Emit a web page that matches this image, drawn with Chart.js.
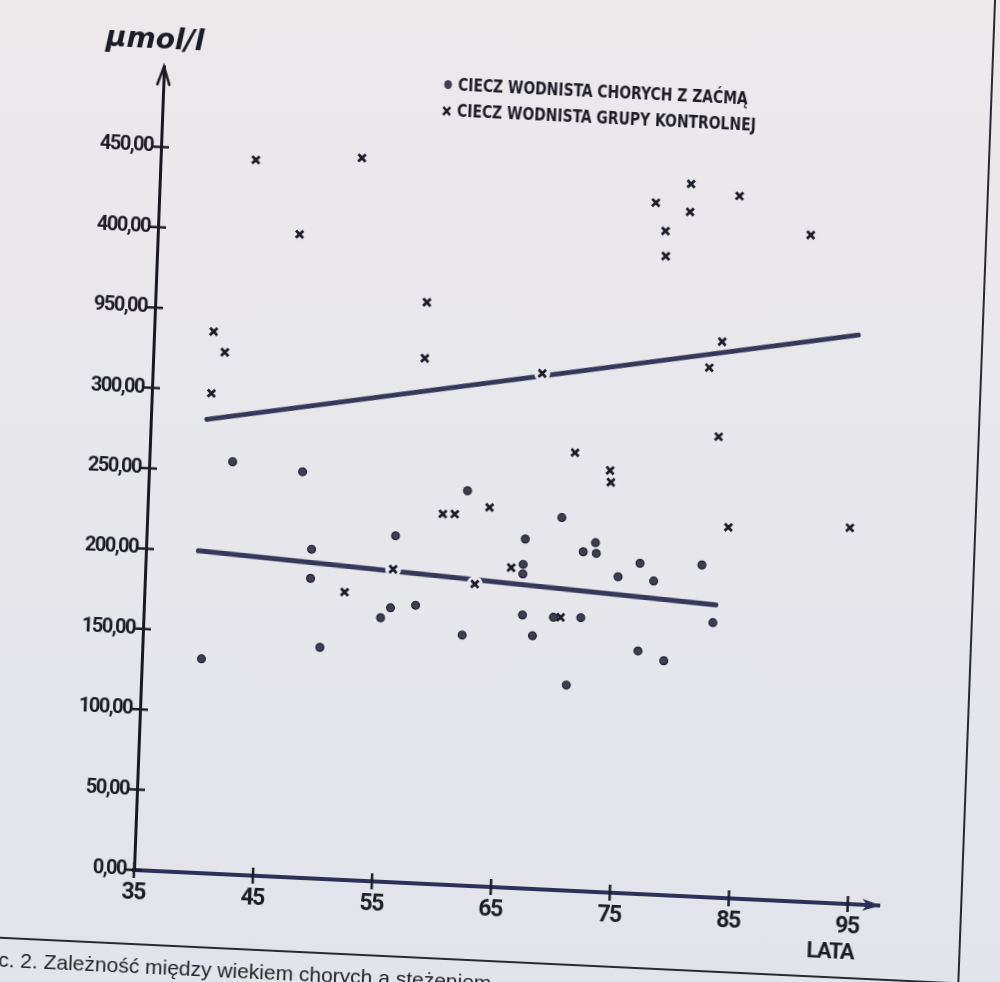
<!DOCTYPE html>
<html>
<head>
<meta charset="utf-8">
<script src="https://cdn.jsdelivr.net/npm/chart.js@4.4.0/dist/chart.umd.min.js"></script>
<style>
    html, body {
        margin: 0;
        padding: 0;
        width: 1000px;
        height: 982px;
        overflow: hidden;
        background: linear-gradient(#ece9eb, #e2e4eb);
    }
    /* the scanned page is slightly rotated, so the whole sheet is tilted round the plot origin */
    #page {
        position: absolute;
        left: 0;
        top: 0;
        width: 1000px;
        height: 982px;
        transform-origin: 134px 870px;
        transform: matrix(0.99887, 0.04763, -0.03734, 0.9993, 0, 0);
    }
    #chart { position: absolute; left: 0; top: 0; }
    .txt {
        position: absolute;
        white-space: nowrap;
        color: #1c1c26;
        font-family: 'DejaVu Sans Condensed', 'DejaVu Sans', sans-serif;
        font-weight: bold;
    }
    .row { left: 413px; height: 22px; line-height: 22px; font-size: 18px; transform: scaleX(0.86); transform-origin: 0 50%; }
    .mark { display: inline-block; width: 12px; height: 12px; margin-right: 6px; vertical-align: -1px; }
    .dot { width: 9px; height: 9px; border-radius: 50%; background: #3e3f52; margin: 0 7px 0 2px; vertical-align: 1px; }
    #unit { left: 75px; top: 22px; font-family: 'DejaVu Sans', sans-serif; font-style: italic; font-size: 28px; }
    #lata { left: 809px; top: 905px; font-family: Roboto, sans-serif; font-size: 22px; letter-spacing: -1.5px; }
    #caption { left: -24px; top: 954px; font-family: 'Liberation Sans', Arial, sans-serif; font-weight: normal; font-size: 21px; color: #222; }
    .rule { position: absolute; background: #2a2a33; }
</style>
</head>
<body>
<div id="page">
    <canvas id="chart" width="1000" height="982"></canvas>
    <div class="txt" id="unit">μmol/l</div>
    <div class="txt row" style="top:59px"><span class="mark dot"></span>CIECZ WODNISTA CHORYCH Z ZAĆMĄ</div>
    <div class="txt row" style="top:85px"><svg class="mark" viewBox="0 0 12 12"><path d="M2 2L10 10M10 2L2 10" stroke="#1c1c26" stroke-width="2.6"/></svg>CIECZ WODNISTA GRUPY KONTROLNEJ</div>
    <div class="txt" id="lata">LATA</div>
    <div class="rule" style="left:0;top:943px;width:962px;height:1.5px"></div>
    <div class="rule" style="left:961px;top:-40px;width:1.5px;height:984px"></div>
    <div class="txt" id="caption">Ryc. 2. Zależność między wiekiem chorych a stężeniem</div>
</div>
<script>
/* values */
const cataractAge = [42.0, 47.9, 48.9, 48.9, 49.9, 40.0, 61.8, 55.9, 55.7, 54.9, 57.8, 61.8, 66.8, 66.7, 66.7, 66.8,
    67.7, 69.8, 71.7, 72.7, 72.8, 69.4, 71.7, 74.7, 70.7, 76.6, 76.5, 81.7, 77.7, 82.8, 78.8];
const cataractLevel = [256.5, 252.4, 204.5, 186.4, 143.8, 133.2, 245.5, 215.4, 170.5, 164.0, 172.8, 155.7, 217.2, 201.4, 195.4, 169.9,
    157.3, 231.6, 211.0, 217.0, 210.4, 169.4, 170.0, 196.5, 127.7, 151.0, 205.5, 206.3, 194.9, 170.8, 145.7];

const controlAge = [40.0, 41.0, 40.0, 43.0, 46.9, 51.9, 57.8, 57.8, 67.7, 51.8, 59.8, 60.8, 63.7, 55.8, 62.7, 65.7,
    70.0, 70.7, 73.7, 73.8, 82.7, 81.7, 82.7, 79.6, 76.7, 79.6, 83.7, 77.6, 77.7, 89.8, 83.8, 94.0];
const controlLevel = [336.8, 324.3, 298.4, 444.7, 399.8, 449.1, 361.3, 326.5, 320.6, 178.9, 230.3, 230.6, 235.8, 194.5, 187.7, 199.0,
    169.6, 272.3, 262.3, 255.0, 345.6, 329.1, 286.5, 442.7, 430.0, 425.3, 436.6, 412.7, 397.1, 414.5, 230.5, 233.8];

/* regression lines, start and end */
const trendCataractAge = [39.4, 83.0];
const trendCataractLevel = [200.2, 181.9];
const trendControlAge = [39.7, 94.1];
const trendControlLevel = [282.1, 353.8];

const xTicks = [35, 45, 55, 65, 75, 85, 95];
const yTicks = [0, 50, 100, 150, 200, 250, 300, 350, 400, 450];
const yTickLabels = ['0,00', '50,00', '100,00', '150,00', '200,00', '250,00', '300,00', '950,00', '400,00', '450,00'];

const ink = '#1c1c26';
const lineInk = '#36385a';
const paper = '#e8e7ec';

function pts(xs, ys) {
    return xs.map((v, i) => ({ x: v, y: ys[i] }));
}

/* crossing tick marks and the two arrow heads; tighter letters for the condensed print */
const axisDecor = {
    id: 'axisDecor',
    beforeDraw(chart) {
        chart.ctx.letterSpacing = '-1.5px';
    },
    afterDraw(chart) {
        const { ctx, chartArea: a, scales } = chart;
        ctx.letterSpacing = '0px';
        ctx.save();
        ctx.strokeStyle = ink;
        ctx.lineWidth = 2.5;
        ctx.beginPath();
        yTicks.forEach(v => {
            const py = scales.y.getPixelForValue(v);
            ctx.moveTo(a.left - 8, py);
            ctx.lineTo(a.left + 8, py);
        });
        xTicks.forEach(v => {
            const px = scales.x.getPixelForValue(v);
            ctx.moveTo(px, a.bottom - 8);
            ctx.lineTo(px, a.bottom + 8);
        });
        ctx.stroke();

        /* y arrow */
        ctx.lineCap = 'round';
        ctx.beginPath();
        ctx.moveTo(a.left - 6, a.top + 18);
        ctx.lineTo(a.left, a.top);
        ctx.lineTo(a.left + 6, a.top + 18);
        ctx.stroke();

        /* x arrow */
        ctx.fillStyle = '#2d3058';
        ctx.beginPath();
        ctx.moveTo(a.right + 2, a.bottom);
        ctx.lineTo(a.right - 17, a.bottom - 6);
        ctx.lineTo(a.right - 12, a.bottom);
        ctx.lineTo(a.right - 17, a.bottom + 6);
        ctx.closePath();
        ctx.fill();
        ctx.restore();
    }
};

new Chart(document.getElementById('chart'), {
    type: 'scatter',
    data: {
        datasets: [
            {
                label: 'trend control',
                type: 'line',
                data: pts(trendControlAge, trendControlLevel),
                borderColor: lineInk,
                borderWidth: 5,
                borderCapStyle: 'round',
                pointRadius: 0,
                fill: false,
                order: 3
            },
            {
                label: 'trend cataract',
                type: 'line',
                data: pts(trendCataractAge, trendCataractLevel),
                borderColor: lineInk,
                borderWidth: 5,
                borderCapStyle: 'round',
                pointRadius: 0,
                fill: false,
                order: 3
            },
            {
                /* paper coloured disc under each cross: cuts the lines like in the print */
                label: 'halo',
                data: pts(controlAge, controlLevel),
                pointStyle: 'circle',
                pointRadius: 8,
                backgroundColor: paper,
                borderWidth: 0,
                order: 2
            },
            {
                label: 'CIECZ WODNISTA CHORYCH Z ZAĆMĄ',
                data: pts(cataractAge, cataractLevel),
                pointStyle: 'circle',
                pointRadius: 3.9,
                backgroundColor: '#3e3f52',
                borderColor: '#1f1f2b',
                borderWidth: 1.2,
                order: 1
            },
            {
                label: 'CIECZ WODNISTA GRUPY KONTROLNEJ',
                data: pts(controlAge, controlLevel),
                pointStyle: 'crossRot',
                pointRadius: 5.2,
                borderColor: ink,
                borderWidth: 2.8,
                order: 0
            }
        ]
    },
    options: {
        responsive: false,
        animation: false,
        events: [],
        layout: { padding: { left: 0, right: 120, top: 66, bottom: 0 } },
        plugins: {
            legend: { display: false },
            tooltip: { enabled: false }
        },
        scales: {
            x: {
                type: 'linear',
                min: 35,
                max: 97.64,
                afterFit: s => { s.height = 112; },
                afterBuildTicks: s => { s.ticks = xTicks.map(v => ({ value: v })); },
                grid: { display: false, drawTicks: false },
                border: { display: true, color: '#2d3058', width: 4 },
                ticks: {
                    padding: 9,
                    color: ink,
                    font: { family: 'Roboto', weight: 'bold', size: 23 },
                    autoSkip: false,
                    maxRotation: 0,
                    callback: v => String(v)
                }
            },
            y: {
                min: 0,
                max: 500,
                afterFit: s => { s.width = 134; },
                afterBuildTicks: s => { s.ticks = yTicks.map(v => ({ value: v })); },
                grid: { display: false, drawTicks: false },
                border: { display: true, color: '#191922', width: 3 },
                ticks: {
                    padding: 8,
                    color: ink,
                    font: { family: 'Roboto', weight: 'bold', size: 20 },
                    autoSkip: false,
                    callback: v => yTickLabels[yTicks.indexOf(v)]
                }
            }
        }
    },
    plugins: [axisDecor]
});
</script>
</body>
</html>
